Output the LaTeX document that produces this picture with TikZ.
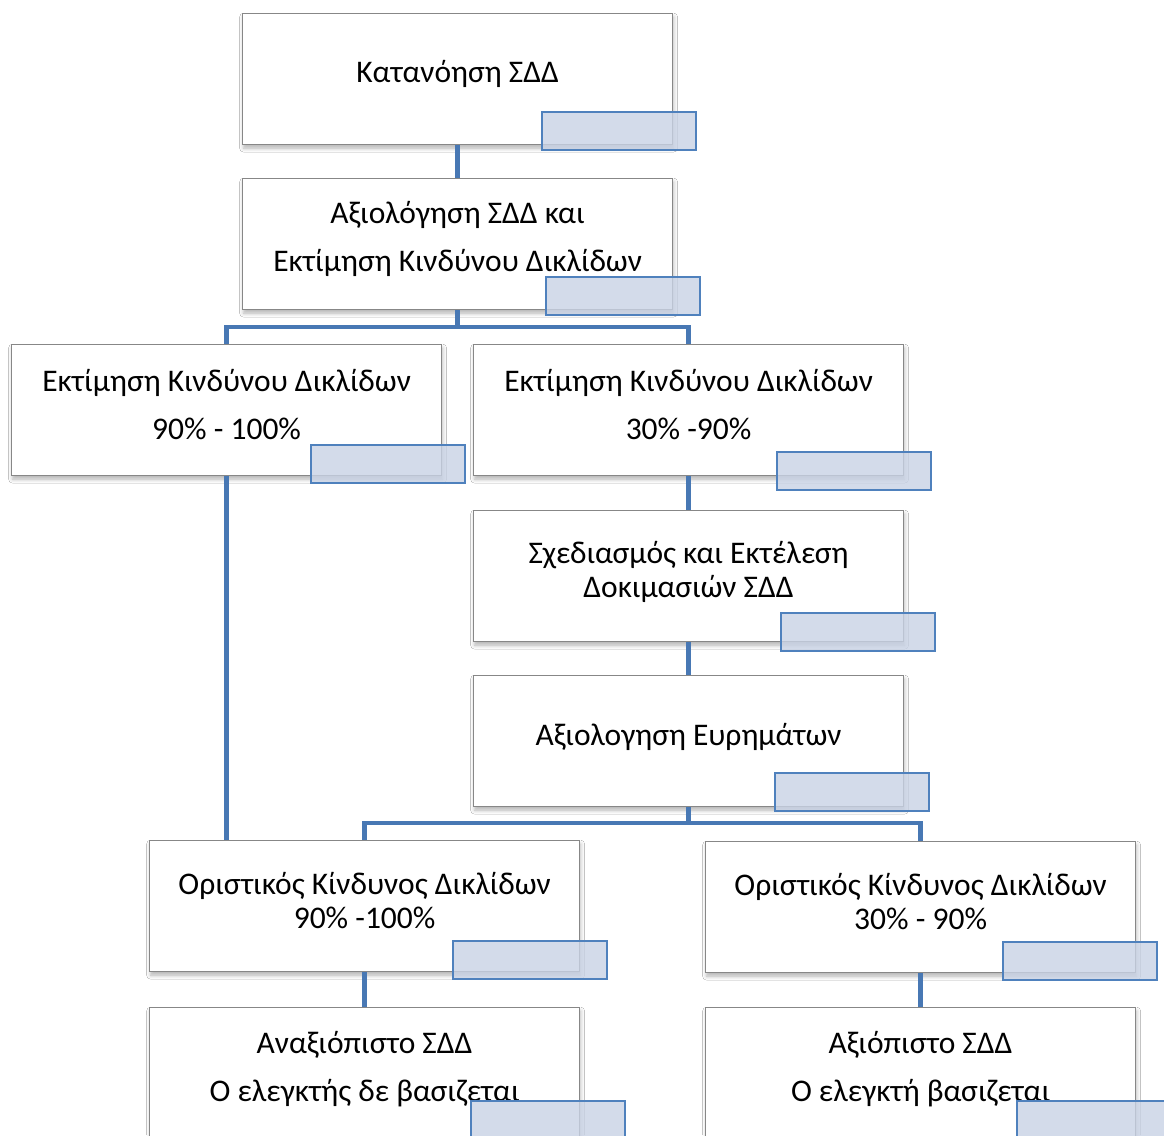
\documentclass[tikz,border=0pt]{standalone}
\usepackage{fontspec}
\setmainfont{Carlito}
\usetikzlibrary{shadows.blur}
\definecolor{linkblue}{RGB}{72,120,180}
\definecolor{tabfill}{RGB}{200,210,229}
\definecolor{tabedge}{RGB}{79,129,189}
\definecolor{boxedge}{RGB}{135,135,135}
\begin{document}
\begin{tikzpicture}[x=1pt,y=-1pt,
  box/.style={draw=boxedge, line width=1.2pt, fill=white, anchor=north west,
    minimum width=430pt, minimum height=131pt, inner sep=0pt,
    blur shadow={shadow xshift=1pt, shadow yshift=-3.5pt, shadow blur radius=4pt, shadow opacity=30}},
  txt/.style={align=center, inner sep=0pt},
  wide/.style={txt, font=\fontsize{31.5}{48}\selectfont},
  tight/.style={txt, font=\fontsize{31.5}{34}\selectfont},
  tab/.style={draw=tabedge, line width=2pt, fill=tabfill, fill opacity=0.8,
    anchor=north west, minimum width=154pt, minimum height=38pt, inner sep=0pt},
  conn/.style={draw=linkblue, line width=4.5pt}]
\clip (0,0) rectangle (1164,1135);
\fill[white] (0,0) rectangle (1164,1135);

% boxes
\node[box] (b1) at (242,13) {};
\node[box] (b2) at (242,178) {};
\node[box] (b3) at (11,344) {};
\node[box] (b4) at (473,344) {};
\node[box] (b5) at (473,510) {};
\node[box] (b6) at (473,675) {};
\node[box] (b7) at (149,840) {};
\node[box] (b8) at (705,841) {};
\node[box] (b9) at (149,1007) {};
\node[box] (b10) at (705,1007) {};

% box texts, set a little above the box centres
\node[wide] (l1) at ([yshift=5pt]b1.center) {Κατανόηση ΣΔΔ};
\node[wide] (l2) at ([yshift=5pt]b2.center) {Αξιολόγηση ΣΔΔ και\\Εκτίμηση Κινδύνου Δικλίδων};
\node[wide] (l3) at ([yshift=6pt]b3.center) {Εκτίμηση Κινδύνου Δικλίδων\\90\% - 100\%};
\node[wide] (l4) at ([yshift=6pt]b4.center) {Εκτίμηση Κινδύνου Δικλίδων\\30\% -90\%};
\node[tight] (l5) at ([yshift=4pt]b5.center) {Σχεδιασμός και Εκτέλεση\\Δοκιμασιών ΣΔΔ};
\node[wide] (l6) at ([yshift=4pt]b6.center) {Αξιολογηση Ευρημάτων};
\node[tight] (l7) at ([yshift=6pt]b7.center) {Οριστικός Κίνδυνος Δικλίδων\\90\% -100\%};
\node[tight] (l8) at ([yshift=6pt]b8.center) {Οριστικός Κίνδυνος Δικλίδων\\30\% - 90\%};
\node[wide] (l9) at ([yshift=4pt]b9.center) {Αναξιόπιστο ΣΔΔ\\Ο ελεγκτής δε βασιζεται};
\node[wide] (l10) at ([yshift=4pt]b10.center) {Αξιόπιστο ΣΔΔ\\Ο ελεγκτή βασιζεται};

% connectors
\draw[conn] (b1.south) -- (b2.north);
\draw[conn] (b2.south) -- ++(0,17) -| (b3.north);
\draw[conn] (b2.south) -- ++(0,17) -| (b4.north);
\draw[conn] (b3.south) -- (b3.south |- b7.north);
\draw[conn] (b4.south) -- (b5.north);
\draw[conn] (b5.south) -- (b6.north);
\draw[conn] (b6.south) -- ++(0,16) -| (b7.north);
\draw[conn] (b6.south) -- ++(0,16) -| (b8.north);
\draw[conn] (b7.south) -- (b9.north);
\draw[conn] (b8.south) -- (b10.north);

% blue tabs on the box corners
\node[tab] (t1) at (541,111) {};
\node[tab] (t2) at (545,276) {};
\node[tab] (t3) at (310,444) {};
\node[tab] (t4) at (776,451) {};
\node[tab] (t5) at (780,612) {};
\node[tab] (t6) at (774,772) {};
\node[tab] (t7) at (452,940) {};
\node[tab] (t8) at (1002,941) {};
\node[tab] (t9) at (470,1100) {};
\node[tab] (t10) at (1016,1100) {};
\end{tikzpicture}
\end{document}
